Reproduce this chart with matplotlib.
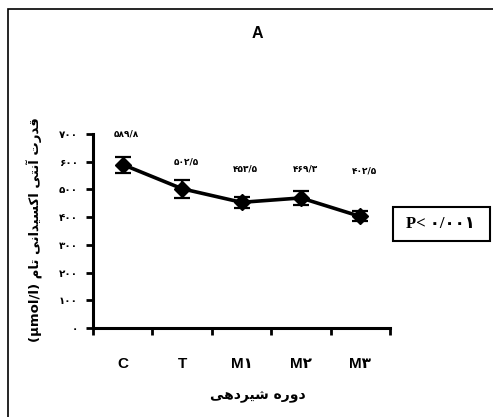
import matplotlib
matplotlib.use("Agg")
import matplotlib.pyplot as plt
import matplotlib.patches as patches

# data
categories = ['C', 'T', 'M\u06f1', 'M\u06f2', 'M\u06f3']
means = [589.8, 502.5, 453.5, 469.3, 402.5]
errors = [29, 33, 20, 25, 18]
yticks = [0, 100, 200, 300, 400, 500, 600, 700]

# label offsets above each point (points), styling only
label_offsets = [22, 19, 24, 21, 33]

PERSIAN_DIGITS = str.maketrans('0123456789.', '\u06f0\u06f1\u06f2\u06f3\u06f4\u06f5\u06f6\u06f7\u06f8\u06f9/')

# minimal arabic shaping: (isolated, final[, initial, medial])
FORMS = {
    '\u0627': ('\ufe8d', '\ufe8e'),
    '\u0622': ('\ufe81', '\ufe82'),
    '\u062f': ('\ufea9', '\ufeaa'),
    '\u0631': ('\ufead', '\ufeae'),
    '\u0648': ('\ufeed', '\ufeee'),
    '\u062a': ('\ufe95', '\ufe96', '\ufe97', '\ufe98'),
    '\u0646': ('\ufee5', '\ufee6', '\ufee7', '\ufee8'),
    '\u0642': ('\ufed5', '\ufed6', '\ufed7', '\ufed8'),
    '\u0633': ('\ufeb1', '\ufeb2', '\ufeb3', '\ufeb4'),
    '\u0634': ('\ufeb5', '\ufeb6', '\ufeb7', '\ufeb8'),
    '\u0645': ('\ufee1', '\ufee2', '\ufee3', '\ufee4'),
    '\u0647': ('\ufee9', '\ufeea', '\ufeeb', '\ufeec'),
    '\u06cc': ('\ufbfc', '\ufbfd', '\ufbfe', '\ufbff'),
    '\u06a9': ('\ufb8e', '\ufb8f', '\ufb90', '\ufb91'),
}


def shape(text):
    out = []
    for i, ch in enumerate(text):
        f = FORMS.get(ch)
        if f is None:
            out.append(ch)
            continue
        prev = text[i-1] if i > 0 else ''
        nxt = text[i+1] if i + 1 < len(text) else ''
        join_prev = prev in FORMS and len(FORMS[prev]) == 4
        join_next = nxt in FORMS and len(f) == 4
        if join_prev and join_next:
            out.append(f[3])
        elif join_prev:
            out.append(f[1])
        elif join_next:
            out.append(f[2])
        else:
            out.append(f[0])
    return ''.join(reversed(out))


def fa(num):
    s = ('%g' % num) if num != int(num) else str(int(num))
    return s.translate(PERSIAN_DIGITS)


ylabel_fa = 'قدرت آنتی اکسیدانی تام'
xlabel_fa = 'دوره شیردهی'

W, H = 493, 417
fig = plt.figure(figsize=(W/100, H/100), dpi=100)
ax = fig.add_axes((93/W, 1-328/H, 297/W, 194/H))

x = list(range(len(categories)))
ax.errorbar(x, means, yerr=errors, color='black', lw=2.6, marker='D', markersize=8.5,
            capsize=6, capthick=1.6, elinewidth=1.6)

for xi, m, off in zip(x, means, label_offsets):
    ax.annotate(fa(m), (xi, m), xytext=(3, off), textcoords='offset points',
                ha='center', va='center', fontsize=6.5, fontweight='bold',
                family=['DejaVu Sans'])

ax.set_xlim(-0.5, len(categories) - 0.5)
ax.set_ylim(0, 700)
ax.set_yticks(yticks)
ax.set_yticklabels([fa(t) for t in yticks], fontsize=7.5, fontweight='bold')
ax.set_xticks([i - 0.5 for i in range(len(categories) + 1)])
ax.set_xticklabels([])
ax.set_xticks(x, minor=True)
ax.set_xticklabels(categories, minor=True, fontsize=11, fontweight='bold',
                   family=['Liberation Sans', 'DejaVu Sans'])
ax.tick_params(axis='x', which='minor', length=0, pad=21)
ax.tick_params(axis='both', which='major', direction='out', length=5, width=2)
ax.tick_params(axis='y', pad=6)

for s in ['top', 'right']:
    ax.spines[s].set_visible(False)
for s in ['left', 'bottom']:
    ax.spines[s].set_linewidth(2.2)

fig.text(257/W, 1-33/H, 'A', ha='center', va='center', fontsize=11.5,
         fontweight='bold', family=['Liberation Sans'])
fig.text(258/W, 1-396/H, shape(xlabel_fa), ha='center', va='center',
         fontsize=10, fontweight='bold')
fig.text(35/W, 1-230/H, '(\u00b5mol/l) ' + shape(ylabel_fa), rotation=90,
         ha='center', va='center', fontsize=9.5, fontweight='bold')

# outer frame, cut off at right and bottom
fig.patches.append(patches.Rectangle((8/W, -0.1), 1.2, 1.1 - 9/H, transform=fig.transFigure,
                                     fill=False, lw=1.2, edgecolor='black'))
# p-value box
fig.patches.append(patches.Rectangle((393/W, 1-241/H), 97/W, 34/H, transform=fig.transFigure,
                                     fill=False, lw=1.5, edgecolor='black'))
fig.text(440/W, 1-224/H, 'P< ' + fa(0) + '/' + '\u06f0\u06f0\u06f1', ha='center', va='center',
         fontsize=12, fontweight='bold', family=['Liberation Serif', 'DejaVu Sans'])

fig.savefig('out.png', dpi=100)
